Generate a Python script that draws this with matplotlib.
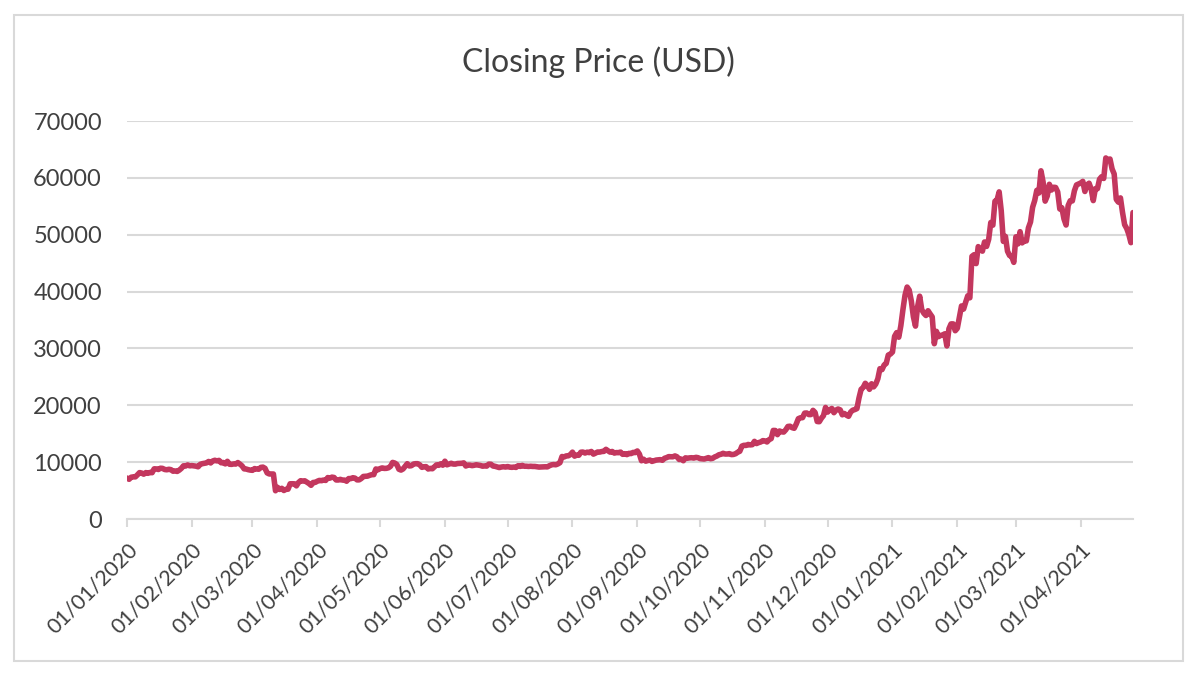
import matplotlib
matplotlib.use('Agg')
import matplotlib.pyplot as plt
import matplotlib.dates as mdates
from matplotlib.patches import Rectangle
import numpy as np
import pandas as pd

# daily closing prices, one list per month
jan20 = [7200, 6985, 7345, 7410, 7411, 7769, 8163, 8080, 7879, 8166, 8037, 8193, 8145, 8828, 8808, 8708,
         8930, 8902, 8707, 8658, 8745, 8681, 8407, 8445, 8368, 8597, 8910, 9358, 9317, 9508, 9351]
feb20 = [9393, 9344, 9293, 9181, 9613, 9730, 9795, 9866, 10117, 9857, 10208, 10327, 10215, 10312, 9889,
         9935, 9691, 10142, 9633, 9608, 9687, 9663, 9925, 9651, 9342, 8820, 8784, 8672, 8599]
mar20 = [8563, 8869, 8788, 8756, 9078, 9123, 8910, 8108, 7923, 7909, 7911, 4971, 5563, 5201, 5393, 5014,
         5225, 5238, 6191, 6198, 6185, 5830, 6416, 6734, 6681, 6716, 6469, 6242, 5922, 6429, 6438]
apr20 = [6641, 6794, 6734, 6857, 6779, 7286, 7190, 7363, 7302, 6865, 6859, 6971, 6845, 6842, 6642, 7117,
         7096, 7257, 7189, 6882, 6880, 7118, 7482, 7506, 7539, 7679, 7795, 7807, 8801, 8658]
may20 = [8864, 8989, 8897, 8912, 9003, 9268, 9951, 9842, 9593, 8756, 8601, 8805, 9269, 9733, 9328, 9377,
         9670, 9726, 9729, 9523, 9081, 9182, 9210, 8790, 8906, 8835, 9181, 9525, 9439, 9700, 9461]
jun20 = [10167, 9529, 9656, 9800, 9665, 9653, 9759, 9775, 9794, 9870, 9321, 9480, 9475, 9386, 9450, 9538,
         9480, 9412, 9288, 9332, 9303, 9648, 9630, 9314, 9264, 9162, 9045, 9143, 9190, 9137]
jul20 = [9228, 9123, 9087, 9132, 9073, 9375, 9252, 9428, 9277, 9278, 9240, 9276, 9243, 9243, 9192, 9132,
         9151, 9159, 9185, 9164, 9374, 9525, 9581, 9536, 9677, 9905, 10990, 10912, 11100, 11111, 11323]
aug20 = [11759, 11053, 11246, 11205, 11747, 11779, 11601, 11754, 11675, 11878, 11410, 11584, 11784, 11768,
         11865, 11892, 12254, 11991, 11758, 11878, 11592, 11681, 11664, 11774, 11366, 11488, 11323, 11542,
         11507, 11711, 11680]
sep20 = [11970, 11414, 10245, 10511, 10169, 10280, 10370, 10131, 10242, 10363, 10400, 10442, 10323, 10680,
         10796, 10974, 10948, 10944, 11094, 10938, 10462, 10538, 10246, 10760, 10692, 10750, 10776, 10709,
         10844, 10784]
oct20 = [10619, 10575, 10549, 10669, 10793, 10604, 10668, 10915, 11064, 11296, 11384, 11555, 11425, 11429,
         11495, 11323, 11358, 11483, 11742, 11916, 12823, 12965, 12931, 13108, 13031, 13075, 13654, 13271,
         13437, 13546, 13781]
nov20 = [13737, 13550, 13950, 14133, 15579, 15565, 14833, 15479, 15332, 15290, 15701, 16276, 16317, 16068,
         15955, 16716, 17645, 17804, 17817, 18621, 18642, 18370, 18364, 19107, 18732, 17150, 17108, 17717,
         18177, 19625]
dec20 = [18802, 19201, 19446, 18699, 19154, 19345, 19191, 18321, 18553, 18264, 18058, 18803, 19142, 19246,
         19417, 21310, 22805, 23137, 23869, 23478, 22803, 23783, 23241, 23735, 24665, 26437, 26272, 27084,
         27362, 28840, 29001]
jan21 = [29374, 32127, 32782, 31971, 33992, 36824, 39371, 40797, 40254, 38356, 35566, 33922, 37316, 39187,
         36825, 36178, 35792, 36630, 36069, 35547, 30826, 33005, 32067, 32289, 32366, 32569, 30433, 33467,
         34316, 34317, 33114]
feb21 = [33538, 35510, 37472, 36926, 38144, 39266, 38903, 46196, 46481, 44919, 47909, 47505, 47106, 48718,
         47945, 49200, 52149, 51679, 55888, 56100, 57539, 54207, 48824, 49705, 47093, 46339, 46188, 45137]
mar21 = [49631, 48378, 50538, 48561, 48927, 48912, 51206, 52246, 54824, 56008, 57805, 57332, 61243, 59302,
         55907, 56804, 58870, 57858, 58346, 58313, 57523, 54529, 54738, 52774, 51704, 55137, 55974, 55947,
         57750, 58760, 58918]
apr21 = [59095, 59384, 57604, 58759, 59058, 58021, 56000, 58094, 58093, 59774, 60205, 59893, 63504, 63110,
         63315, 61572, 60684, 56217, 55725, 56474, 53907, 51763, 51094, 50051, 48600, 53900]

prices = np.array(jan20 + feb20 + mar20 + apr20 + may20 + jun20 + jul20 + aug20 + sep20 + oct20
                  + nov20 + dec20 + jan21 + feb21 + mar21 + apr21)
dates = pd.date_range('2020-01-01', periods=len(prices), freq='D')

title = 'Closing Price (USD)'
month_ticks = pd.date_range('2020-01-01', '2021-04-01', freq='MS')

txt = '#404040'
grid = '#D9D9D9'
plt.rcParams['font.family'] = ['Lato', 'DejaVu Sans']

fig = plt.figure(figsize=(11.92, 6.73), dpi=100)
ax = fig.add_axes([127/1192, 1 - 519/673, (1133-127)/1192, (519-121)/673])

ax.plot(dates, prices, color='#C3375E', lw=4, solid_joinstyle='round', solid_capstyle='round')

ax.set_ylim(0, 70000)
ax.set_yticks(np.arange(0, 70001, 10000))
ax.set_xlim(dates[0], dates[-1])
ax.set_xticks(month_ticks)
ax.xaxis.set_major_formatter(mdates.DateFormatter('%d/%m/%Y'))

ax.yaxis.grid(True, color=grid, lw=1.5)
ax.set_axisbelow(True)
for s in ['top', 'right', 'left']:
    ax.spines[s].set_visible(False)
ax.spines['bottom'].set_color(grid)
ax.spines['bottom'].set_linewidth(1.5)
ax.tick_params(axis='y', length=0, pad=18, labelsize=17, labelcolor=txt)
ax.tick_params(axis='x', length=6, width=1.5, color=grid, pad=9, labelsize=15.5, labelcolor=txt)
plt.setp(ax.get_xticklabels(), rotation=45, ha='right', rotation_mode='anchor')

fig.text(0.502, 1 - 62/673, title, ha='center', va='center', fontsize=23, color=txt)

# light border round the chart
fig.patches.append(Rectangle((14/1192, 1 - 661/673), (1183-14)/1192, (661-15)/673,
                             transform=fig.transFigure, fill=False, edgecolor=grid, lw=1.5))

fig.savefig('out.png', dpi=100)
